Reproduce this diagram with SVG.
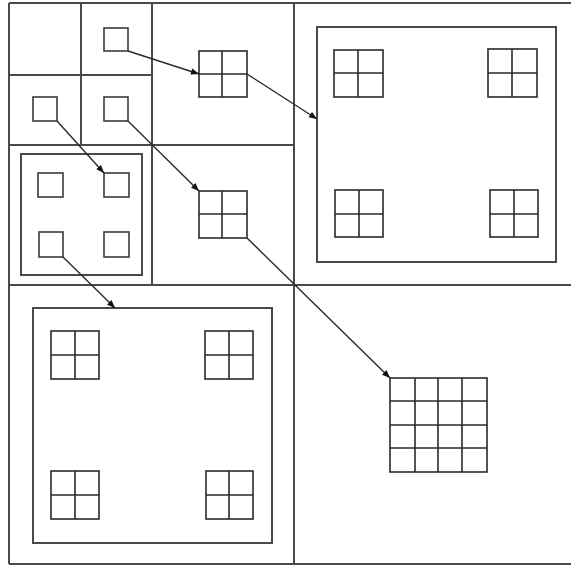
<svg xmlns="http://www.w3.org/2000/svg" width="571" height="567" viewBox="0 0 571 567">
<defs>
<style>
.frame{fill:none;stroke:#4a4a4a;stroke-width:2}
.box{fill:none;stroke:#3a3a3a;stroke-width:1.6}
.grid{fill:none;stroke:#2a2a2a;stroke-width:1.6}
.conn{fill:none;stroke:#2a2a2a;stroke-width:1.4}
</style>
<marker id="ah" viewBox="0 0 10 10" refX="10" refY="5" markerWidth="9" markerHeight="8" markerUnits="userSpaceOnUse" orient="auto">
<path d="M0,1 L10,5 L0,9 z" fill="#111"/>
</marker>
</defs>
<rect width="571" height="567" fill="#fff"/>
<g id="frame">
<path class="frame" d="M9,3 H571 M9,3 V564 M9,564 H571 M294,3 V564 M9,285 H571 M152,3 V285 M9,145 H294 M81,3 V145 M9,75 H152"/>
</g>
<g id="sq-a"><rect class="box" x="104" y="28" width="24" height="23"/></g>
<g id="sq-b"><rect class="box" x="33" y="97" width="24" height="24"/></g>
<g id="sq-c"><rect class="box" x="104" y="97" width="24" height="24"/></g>
<g id="grid-a"><rect class="grid" x="199" y="51" width="48" height="46"/><path class="grid" d="M222,51 V97 M199,74 H247"/></g>
<g id="grid-b"><rect class="grid" x="199" y="191" width="48" height="47"/><path class="grid" d="M222,191 V238 M199,214 H247"/></g>
<g id="panel-small">
<rect class="frame" x="21" y="154" width="121" height="121" stroke-width="2.4"/>
<rect class="box" x="38" y="173" width="25" height="24"/>
<rect class="box" x="104" y="173" width="25" height="24"/>
<rect class="box" x="39" y="232" width="24" height="25"/>
<rect class="box" x="104" y="232" width="25" height="25"/>
</g>
<g id="panel-tr">
<rect class="frame" x="317" y="27" width="239" height="235"/>
<rect class="grid" x="334" y="50" width="49" height="47"/><path class="grid" d="M358,50 V97 M334,73 H383"/>
<rect class="grid" x="488" y="49" width="49" height="48"/><path class="grid" d="M512,49 V97 M488,73 H537"/>
<rect class="grid" x="335" y="190" width="48" height="47"/><path class="grid" d="M359,190 V237 M335,214 H383"/>
<rect class="grid" x="490" y="190" width="48" height="47"/><path class="grid" d="M514,190 V237 M490,214 H538"/>
</g>
<g id="panel-bl">
<rect class="frame" x="33" y="308" width="239" height="235"/>
<rect class="grid" x="51" y="331" width="48" height="48"/><path class="grid" d="M75,331 V379 M51,355 H99"/>
<rect class="grid" x="205" y="331" width="48" height="48"/><path class="grid" d="M229,331 V379 M205,355 H253"/>
<rect class="grid" x="51" y="471" width="48" height="48"/><path class="grid" d="M75,471 V519 M51,495 H99"/>
<rect class="grid" x="206" y="471" width="47" height="48"/><path class="grid" d="M229,471 V519 M206,495 H253"/>
</g>
<g id="grid-4x4">
<rect class="grid" x="390" y="378" width="97" height="94"/>
<path class="grid" d="M415,378 V472 M438,378 V472 M462,378 V472 M390,401 H487 M390,425 H487 M390,448 H487"/>
</g>
<g id="connectors">
<line class="conn" x1="128" y1="51" x2="199" y2="74" marker-end="url(#ah)"/>
<line class="conn" x1="247" y1="74" x2="317" y2="119" marker-end="url(#ah)"/>
<line class="conn" x1="57" y1="121" x2="104" y2="173" marker-end="url(#ah)"/>
<line class="conn" x1="128" y1="121" x2="199" y2="191" marker-end="url(#ah)"/>
<line class="conn" x1="247" y1="238" x2="390" y2="378" marker-end="url(#ah)"/>
<line class="conn" x1="63" y1="257" x2="115" y2="308" marker-end="url(#ah)"/>
</g>
</svg>
